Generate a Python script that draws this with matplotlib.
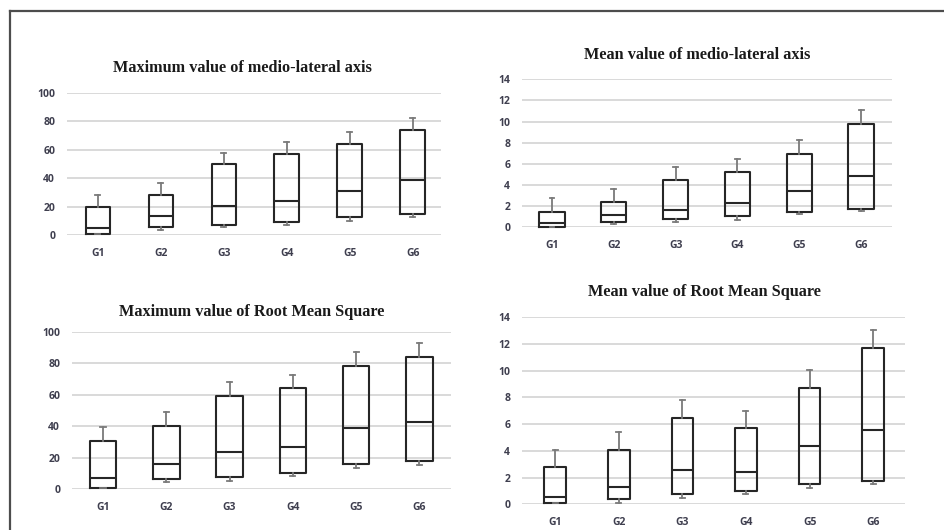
import matplotlib
matplotlib.use("Agg")
import matplotlib.pyplot as plt
from matplotlib.lines import Line2D

groups = ["G1", "G2", "G3", "G4", "G5", "G6"]

# Maximum value of medio-lateral axis
ml_max_low = [0.5, 3.7, 5.4, 7.0, 10.1, 12.4]
ml_max_q1 = [0.5, 5.4, 6.8, 9.1, 12.4, 14.8]
ml_max_med = [5.2, 13.1, 20.4, 24.1, 30.9, 38.9]
ml_max_q3 = [19.9, 27.9, 49.6, 56.7, 63.7, 73.8]
ml_max_high = [28.1, 36.3, 57.4, 65.1, 72.1, 82.2]

# Mean value of medio-lateral axis
ml_mean_low = [0.06, 0.28, 0.50, 0.73, 1.26, 1.55]
ml_mean_q1 = [0.06, 0.50, 0.82, 1.04, 1.45, 1.77]
ml_mean_med = [0.44, 1.20, 1.67, 2.30, 3.44, 4.82]
ml_mean_q3 = [1.45, 2.40, 4.48, 5.20, 6.97, 9.81]
ml_mean_high = [2.74, 3.66, 5.74, 6.50, 8.26, 11.1]

# Maximum value of Root Mean Square
rms_max_low = [0.85, 4.2, 5.3, 8.1, 13.6, 15.1]
rms_max_q1 = [0.85, 6.4, 7.9, 10.2, 15.9, 17.6]
rms_max_med = [7.2, 15.7, 23.4, 27.0, 39.1, 42.5]
rms_max_q3 = [30.8, 40.1, 59.2, 64.3, 78.3, 84.1]
rms_max_high = [39.7, 48.8, 67.9, 72.8, 87.0, 92.8]

# Mean value of Root Mean Square
rms_mean_low = [0.07, 0.10, 0.50, 0.77, 1.25, 1.49]
rms_mean_q1 = [0.07, 0.42, 0.75, 1.02, 1.52, 1.74]
rms_mean_med = [0.52, 1.27, 2.59, 2.42, 4.33, 5.56]
rms_mean_q3 = [2.82, 4.06, 6.48, 5.73, 8.69, 11.68]
rms_mean_high = [4.06, 5.41, 7.80, 6.95, 10.04, 13.0]

W, H = 944, 530
fig = plt.figure(figsize=(W / 100, H / 100), dpi=100)
fig.patch.set_facecolor("white")

TICK_COLOR = "#3f3f4f"
BOX_COLOR = "#262626"
WHISK_COLOR = "#7a7a7a"


def px_axes(x0, x1, y_top, y_bottom):
    return fig.add_axes([x0 / W, 1 - y_bottom / H, (x1 - x0) / W, (y_bottom - y_top) / H])


def draw_panel(ax, low, q1, med, q3, high, ymax, step, xlim, title, title_xy, box_w):
    stats = []
    for g, lo, a, m, b, hi in zip(groups, low, q1, med, q3, high):
        stats.append(dict(label=g, whislo=lo, q1=a, med=m, q3=b, whishi=hi, fliers=[]))
    ax.bxp(stats, positions=range(1, len(groups) + 1), widths=box_w,
           showfliers=False, capwidths=0.08,
           boxprops=dict(color=BOX_COLOR, linewidth=1.5),
           medianprops=dict(color=BOX_COLOR, linewidth=1.5),
           whiskerprops=dict(color=WHISK_COLOR, linewidth=1.3),
           capprops=dict(color=WHISK_COLOR, linewidth=1.3),
           zorder=3)
    ax.set_ylim(0, ymax)
    ax.set_xlim(*xlim)
    ax.set_yticks(range(0, ymax + 1, step))
    ax.set_xticks(range(1, len(groups) + 1))
    ax.set_xticklabels(groups)
    ax.yaxis.grid(True, color="#d9d9d9", linewidth=1.4, zorder=0)
    ax.set_axisbelow(True)
    for s in ax.spines.values():
        s.set_visible(False)
    ax.tick_params(axis="both", length=0, colors=TICK_COLOR, labelsize=7.5)
    ax.tick_params(axis="y", pad=8.5)
    ax.tick_params(axis="x", pad=9.5)
    for lab in ax.get_xticklabels() + ax.get_yticklabels():
        lab.set_fontfamily("Open Sans")
        lab.set_fontweight("bold")
    for ln in ax.lines:
        ln.set_clip_on(False)
    fig.text(title_xy[0] / W, 1 - title_xy[1] / H, title, ha="center", va="center",
             fontsize=11.7, fontweight="bold", fontfamily="Liberation Serif", color="#1a1a1a")


ax1 = px_axes(67, 441, 92.7, 235)
draw_panel(ax1, ml_max_low, ml_max_q1, ml_max_med, ml_max_q3, ml_max_high,
           100, 20, (0.51, 6.45), "Maximum value of medio-lateral axis", (242, 68), 0.39)

ax2 = px_axes(522, 892, 79.3, 227.3)
draw_panel(ax2, ml_mean_low, ml_mean_q1, ml_mean_med, ml_mean_q3, ml_mean_high,
           14, 2, (0.515, 6.5), "Mean value of medio-lateral axis", (697, 55), 0.41)

ax3 = px_axes(72, 451, 332, 489)
draw_panel(ax3, rms_max_low, rms_max_q1, rms_max_med, rms_max_q3, rms_max_high,
           100, 20, (0.51, 6.5), "Maximum value of Root Mean Square", (252, 312), 0.42)

ax4 = px_axes(522, 905, 317, 504.3)
draw_panel(ax4, rms_mean_low, rms_mean_q1, rms_mean_med, rms_mean_q3, rms_mean_high,
           14, 2, (0.48, 6.5), "Mean value of Root Mean Square", (704, 292), 0.34)

# outer frame: left and top edges
fig.add_artist(Line2D([9.5 / W, 9.5 / W], [0, 1 - 10.5 / H], transform=fig.transFigure,
                      color="#4d4d4d", linewidth=1.6))
fig.add_artist(Line2D([9.5 / W, 1], [1 - 10.5 / H, 1 - 10.5 / H], transform=fig.transFigure,
                      color="#4d4d4d", linewidth=1.6))

fig.savefig("out.png", dpi=100, facecolor="white")
